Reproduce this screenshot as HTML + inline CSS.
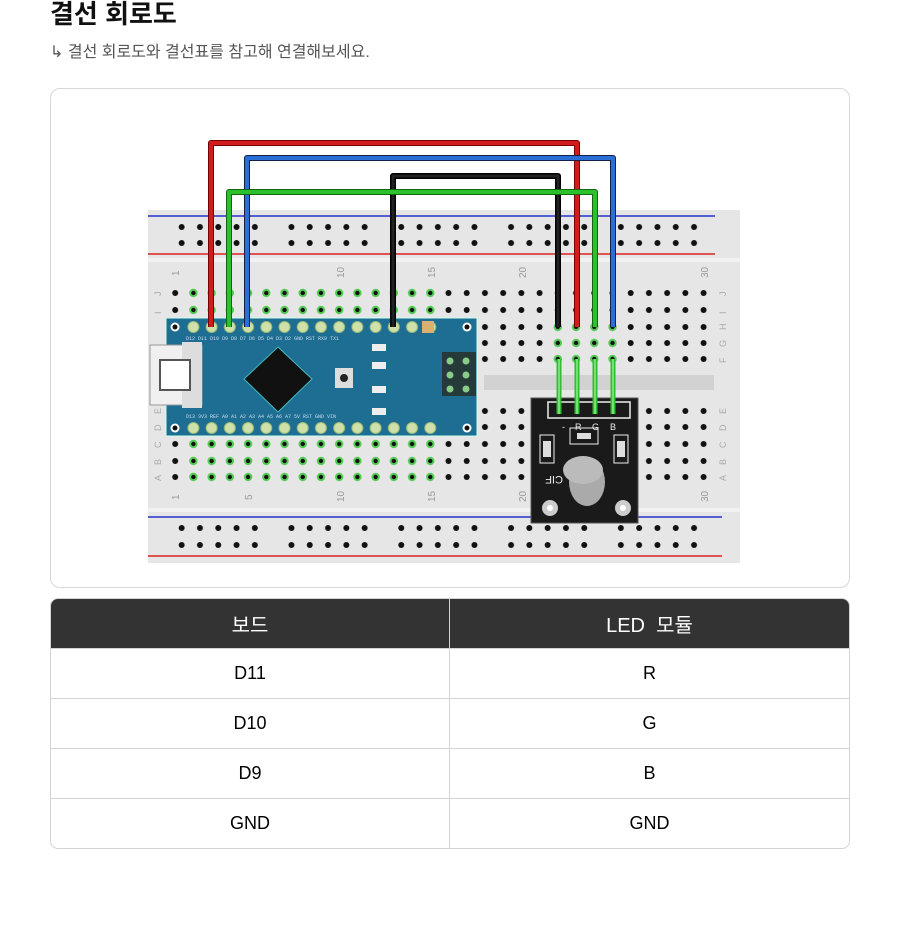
<!DOCTYPE html>
<html><head><meta charset="utf-8">
<style>
body{margin:0;background:#fff;width:900px;height:948px;overflow:hidden;font-family:"Liberation Sans","Noto Sans CJK KR",sans-serif;}
.t{position:absolute;left:50px;top:-6px;font-size:26px;font-weight:bold;color:#111;}
.s{position:absolute;left:50px;top:38px;font-size:16px;color:#555;}
.card{position:absolute;left:50px;top:88px;width:798px;height:498px;border:1px solid #d8d8d8;border-radius:10px;}
table{position:absolute;left:50px;top:598px;width:800px;border-collapse:separate;border-spacing:0;border:1px solid #d4d4d4;border-radius:8px;overflow:hidden;font-size:18px;}
td,th{height:49px;text-align:center;width:50%;border-bottom:1px solid #d4d4d4;padding:0;}
th{background:#333;color:#fff;font-weight:normal;font-size:20px;}
td:first-child,th:first-child{border-right:1px solid #d4d4d4;}
tr:last-child td{border-bottom:none;}
svg{position:absolute;left:0;top:0}
</style></head><body>
<div class="t">결선 회로도</div>
<div class="s">↳ 결선 회로도와 결선표를 참고해 연결해보세요.</div>
<div class="card"></div>
<svg width="900" height="600" viewBox="0 0 900 600">
<defs>
<pattern id="rl" patternUnits="userSpaceOnUse" x="172.5" y="0" width="18.3" height="600"><g fill="#111"><circle cx="9.15" cy="227" r="3"/><circle cx="9.15" cy="243" r="3"/><circle cx="9.15" cy="528" r="3"/><circle cx="9.15" cy="545" r="3"/></g></pattern>
</defs>
<rect x="148" y="210" width="592" height="353" fill="#e6e6e6"/>
<rect x="148" y="258" width="592" height="4" fill="#f2f2f2"/>
<rect x="148" y="508" width="592" height="4" fill="#f2f2f2"/>
<rect x="484" y="375" width="230" height="15" fill="#d2d2d2"/>
<line x1="148" y1="216" x2="715" y2="216" stroke="#2233cc" stroke-width="1.5"/>
<line x1="148" y1="254" x2="715" y2="254" stroke="#dd2222" stroke-width="1.5"/>
<line x1="148" y1="517" x2="722" y2="517" stroke="#2233cc" stroke-width="1.5"/>
<line x1="148" y1="556" x2="722" y2="556" stroke="#dd2222" stroke-width="1.5"/>
<g fill="url(#rl)">
<rect x="172.5" y="220" width="91.5" height="30"/><rect x="282.5" y="220" width="91.5" height="30"/><rect x="392" y="220" width="91.5" height="30"/><rect x="501" y="220" width="91.5" height="30"/><rect x="610" y="220" width="91.5" height="30"/>
<rect x="172.5" y="520" width="91.5" height="30"/><rect x="282.5" y="520" width="91.5" height="30"/><rect x="392" y="520" width="91.5" height="30"/><rect x="501" y="520" width="91.5" height="30"/><rect x="610" y="520" width="91.5" height="30"/>
</g>
<defs>
<pattern id="bd" patternUnits="userSpaceOnUse" x="166.09" y="0" width="18.22" height="600"><circle cx="9.11" cy="293" r="3" fill="#111"/><circle cx="9.11" cy="310" r="3" fill="#111"/><circle cx="9.11" cy="327" r="3" fill="#111"/><circle cx="9.11" cy="343" r="3" fill="#111"/><circle cx="9.11" cy="359" r="3" fill="#111"/><circle cx="9.11" cy="411" r="3" fill="#111"/><circle cx="9.11" cy="427" r="3" fill="#111"/><circle cx="9.11" cy="444" r="3" fill="#111"/><circle cx="9.11" cy="461" r="3" fill="#111"/><circle cx="9.11" cy="477" r="3" fill="#111"/></pattern>
<pattern id="gd" patternUnits="userSpaceOnUse" x="166.09" y="0" width="18.22" height="600"><g fill="#5c5" ><circle cx="9.11" cy="293" r="4.2"/><circle cx="9.11" cy="310" r="4.2"/><circle cx="9.11" cy="444" r="4.2"/><circle cx="9.11" cy="461" r="4.2"/><circle cx="9.11" cy="477" r="4.2"/></g><g fill="#111"><circle cx="9.11" cy="293" r="2.2"/><circle cx="9.11" cy="310" r="2.2"/><circle cx="9.11" cy="444" r="2.2"/><circle cx="9.11" cy="461" r="2.2"/><circle cx="9.11" cy="477" r="2.2"/></g></pattern>
<pattern id="gm" patternUnits="userSpaceOnUse" x="166.09" y="0" width="18.22" height="600"><g fill="#5c5"><circle cx="9.11" cy="327" r="4.2"/><circle cx="9.11" cy="343" r="4.2"/><circle cx="9.11" cy="359" r="4.2"/></g><g fill="#111"><circle cx="9.11" cy="327" r="2.2"/><circle cx="9.11" cy="343" r="2.2"/><circle cx="9.11" cy="359" r="2.2"/></g></pattern>
</defs>
<rect x="166" y="285" width="547" height="200" fill="url(#bd)"/>
<rect x="184.3" y="285" width="255" height="200" fill="#e6e6e6"/>
<rect x="184.3" y="285" width="255" height="200" fill="url(#gd)"/>
<rect x="548" y="320" width="73" height="45" fill="#e6e6e6"/>
<rect x="548" y="320" width="73" height="45" fill="url(#gm)"/>
<g font-size="10" fill="#999" font-family="Liberation Sans,sans-serif">
<text transform="translate(179,276) rotate(-90)">1</text><text transform="translate(344,278) rotate(-90)">10</text><text transform="translate(435,278) rotate(-90)">15</text><text transform="translate(526,278) rotate(-90)">20</text><text transform="translate(708,278) rotate(-90)">30</text>
<text transform="translate(179,500) rotate(-90)">1</text><text transform="translate(252,500) rotate(-90)">5</text><text transform="translate(344,502) rotate(-90)">10</text><text transform="translate(435,502) rotate(-90)">15</text><text transform="translate(526,502) rotate(-90)">20</text><text transform="translate(708,502) rotate(-90)">30</text>
</g>
<g font-size="9" fill="#aaa" font-family="Liberation Sans,sans-serif">
<text transform="translate(161,296) rotate(-90)">J</text><text transform="translate(161,314) rotate(-90)">I</text><text transform="translate(161,414) rotate(-90)">E</text><text transform="translate(161,431) rotate(-90)">D</text><text transform="translate(161,448) rotate(-90)">C</text><text transform="translate(161,465) rotate(-90)">B</text><text transform="translate(161,481) rotate(-90)">A</text>
<text transform="translate(726,296) rotate(-90)">J</text><text transform="translate(726,314) rotate(-90)">I</text><text transform="translate(726,330) rotate(-90)">H</text><text transform="translate(726,347) rotate(-90)">G</text><text transform="translate(726,363) rotate(-90)">F</text><text transform="translate(726,414) rotate(-90)">E</text><text transform="translate(726,431) rotate(-90)">D</text><text transform="translate(726,448) rotate(-90)">C</text><text transform="translate(726,465) rotate(-90)">B</text><text transform="translate(726,481) rotate(-90)">A</text>
</g>
<!-- Arduino -->
<rect x="166" y="318" width="311" height="118" fill="#1d6e92" stroke="#cfe" stroke-width="1"/>
<rect x="150" y="345" width="52" height="60" fill="#f0f0f0" stroke="#999"/>
<rect x="182" y="342" width="20" height="66" fill="#ddd"/>
<rect x="160" y="360" width="30" height="30" fill="#fff" stroke="#555" stroke-width="2"/>
<polygon points="278,347 312,379 278,412 244,379" fill="#111" stroke="#4bb" stroke-width="1"/>
<rect x="335" y="368" width="18" height="20" fill="#ddd"/><circle cx="344" cy="378" r="4" fill="#222"/>
<rect x="372" y="344" width="14" height="7" fill="#eee"/><rect x="372" y="362" width="14" height="7" fill="#eee"/><rect x="372" y="386" width="14" height="7" fill="#eee"/><rect x="372" y="408" width="14" height="7" fill="#eee"/>
<rect x="442" y="352" width="34" height="44" fill="#263a3a"/>
<g fill="#8c8"><circle cx="450" cy="361" r="3.5"/><circle cx="466" cy="361" r="3.5"/><circle cx="450" cy="375" r="3.5"/><circle cx="466" cy="375" r="3.5"/><circle cx="450" cy="389" r="3.5"/><circle cx="466" cy="389" r="3.5"/></g>
<circle cx="175" cy="327" r="4.5" fill="#fff"/><circle cx="175" cy="327" r="2.5" fill="#111"/>
<circle cx="467" cy="327" r="4.5" fill="#fff"/><circle cx="467" cy="327" r="2.5" fill="#111"/>
<circle cx="175" cy="428" r="4.5" fill="#fff"/><circle cx="175" cy="428" r="2.5" fill="#111"/>
<circle cx="467" cy="428" r="4.5" fill="#fff"/><circle cx="467" cy="428" r="2.5" fill="#111"/>
<defs><pattern id="pn" patternUnits="userSpaceOnUse" x="184.3" y="0" width="18.22" height="600"><circle cx="9.11" cy="327" r="5.5" fill="#cfe0a8" stroke="#9b7" stroke-width="1"/><circle cx="9.11" cy="428" r="5.5" fill="#cfe0a8" stroke="#9b7" stroke-width="1"/></pattern></defs>
<rect x="184.3" y="320" width="255" height="116" fill="url(#pn)"/>
<rect x="422" y="321" width="12" height="12" fill="#d9b070"/>
<g font-size="5" fill="#cde" font-family="Liberation Mono,monospace"><text x="186" y="340">D12 D11 D10 D9  D8  D7  D6  D5  D4  D3  D2 GND RST RX0 TX1</text><text x="186" y="418">D13 3V3 REF A0  A1  A2  A3  A4  A5  A6  A7  5V RST GND VIN</text></g>
<!-- module -->
<rect x="531" y="398" width="107" height="125" fill="#1a1a1a" stroke="#555"/>
<rect x="548" y="402" width="82" height="16" fill="none" stroke="#eee" stroke-width="1.5"/>
<g font-size="9" fill="#eee" font-family="Liberation Sans,sans-serif"><text x="562" y="430">-</text><text x="575" y="430">R</text><text x="592" y="430">G</text><text x="610" y="430">B</text></g>
<rect x="570" y="428" width="28" height="16" fill="none" stroke="#eee"/><rect x="577" y="433" width="14" height="6" fill="#ddd"/>
<rect x="540" y="435" width="14" height="28" fill="none" stroke="#eee"/><rect x="543" y="441" width="8" height="16" fill="#ddd"/>
<rect x="614" y="435" width="14" height="28" fill="none" stroke="#eee"/><rect x="617" y="441" width="8" height="16" fill="#ddd"/>
<ellipse cx="587" cy="482" rx="18" ry="24" fill="#aaa"/><ellipse cx="583" cy="470" rx="20" ry="14" fill="#bbb"/>
<circle cx="550" cy="508" r="8" fill="#ccc"/><circle cx="550" cy="508" r="3" fill="#fff"/>
<circle cx="623" cy="508" r="8" fill="#ccc"/><circle cx="623" cy="508" r="3" fill="#fff"/>
<text x="541" y="484" font-size="11" fill="#eee" font-family="Liberation Sans,sans-serif" transform="rotate(180 552 480)">CIF</text>
<g stroke="#3b3" stroke-width="5"><line x1="559" y1="359" x2="559" y2="414"/><line x1="577" y1="359" x2="577" y2="414"/><line x1="595" y1="359" x2="595" y2="414"/><line x1="613" y1="359" x2="613" y2="414"/></g>
<g stroke="#8e8" stroke-width="1.5"><line x1="559" y1="359" x2="559" y2="414"/><line x1="577" y1="359" x2="577" y2="414"/><line x1="595" y1="359" x2="595" y2="414"/><line x1="613" y1="359" x2="613" y2="414"/></g>
<!-- wires -->
<g fill="none" stroke-linejoin="round">
<polyline points="211,327 211,143 577,143 577,327" stroke="#700" stroke-width="6"/><polyline points="211,327 211,143 577,143 577,327" stroke="#d01c1c" stroke-width="4"/>
<polyline points="247,327 247,158 613,158 613,327" stroke="#124" stroke-width="6"/><polyline points="247,327 247,158 613,158 613,327" stroke="#2a6fd8" stroke-width="4"/>
<polyline points="393,327 393,176 558,176 558,327" stroke="#000" stroke-width="6"/><polyline points="393,327 393,176 558,176 558,327" stroke="#222" stroke-width="3"/>
<polyline points="229,327 229,192 595,192 595,327" stroke="#161" stroke-width="6"/><polyline points="229,327 229,192 595,192 595,327" stroke="#2cc02c" stroke-width="4"/>
</g>
</svg>
<table>
<tr><th>보드</th><th>LED &nbsp;모듈</th></tr>
<tr><td>D11</td><td>R</td></tr>
<tr><td>D10</td><td>G</td></tr>
<tr><td>D9</td><td>B</td></tr>
<tr><td>GND</td><td>GND</td></tr>
</table>
</body></html>
